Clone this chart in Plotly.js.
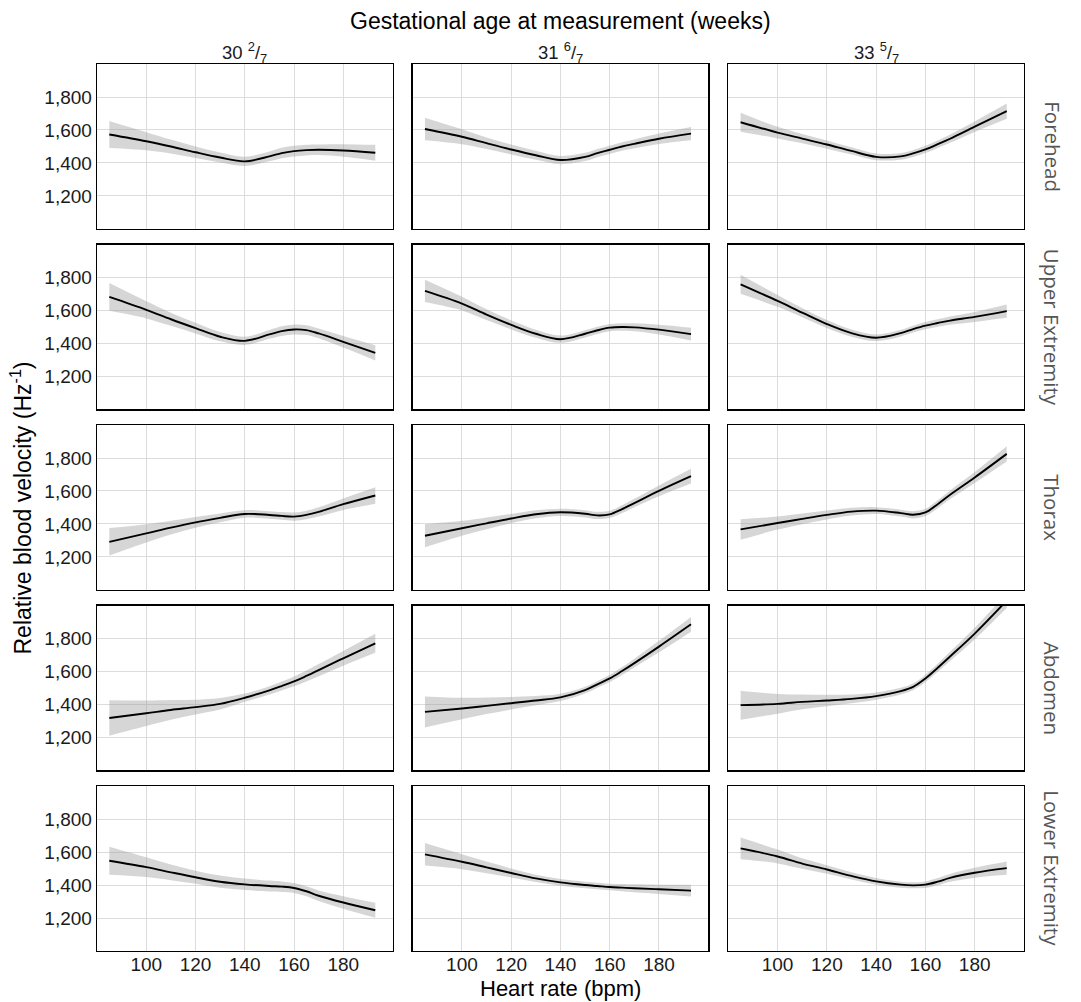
<!DOCTYPE html>
<html>
<head>
<meta charset="utf-8">
<script src="https://cdn.plot.ly/plotly-3.0.1.min.js"></script>
<style>
  html, body { margin: 0; padding: 0; background: #ffffff; }
  #chart { width: 1081px; height: 1002px; }
</style>
</head>
<body>
<div id="chart"></div>
<script>
// ---------------- DATA ----------------
const heartRate = [85, 100, 110, 120, 130, 140, 150, 155, 160, 165, 170, 180, 193];

const gestAges = ['30 <sup>2</sup>/<sub>7</sub>', '31 <sup>6</sup>/<sub>7</sub>', '33 <sup>5</sup>/<sub>7</sub>'];
const regions = ['Forehead', 'Upper Extremity', 'Thorax', 'Abdomen', 'Lower Extremity'];

const xTickVals = [100, 120, 140, 160, 180];
const xTickText = ['100', '120', '140', '160', '180'];
const yTickVals = [1200, 1400, 1600, 1800];
const yTickText = ['1,200', '1,400', '1,600', '1,800'];

// fitted relative blood velocity, one row per gestational age
const foreheadFit = [
  [1573, 1532, 1500, 1465, 1433, 1410, 1440, 1460, 1472, 1478, 1480, 1476, 1462],
  [1606, 1559, 1520, 1482, 1447, 1418, 1437, 1460, 1480, 1500, 1516, 1547, 1578],
  [1647, 1584, 1548, 1512, 1473, 1437, 1440, 1458, 1482, 1514, 1547, 1620, 1714]
];
const foreheadCI = [
  [82, 55, 42, 35, 30, 28, 30, 32, 32, 32, 32, 38, 48],
  [68, 45, 35, 30, 27, 25, 25, 25, 25, 26, 27, 32, 40],
  [58, 35, 28, 25, 22, 20, 20, 21, 22, 23, 25, 32, 46]
];
const upperFit = [
  [1682, 1604, 1547, 1493, 1441, 1416, 1455, 1475, 1485, 1481, 1461, 1410, 1343],
  [1719, 1642, 1575, 1513, 1459, 1426, 1459, 1480, 1496, 1500, 1498, 1484, 1457],
  [1759, 1658, 1587, 1518, 1463, 1435, 1463, 1487, 1508, 1524, 1539, 1561, 1596]
];
const upperCI = [
  [84, 52, 40, 32, 28, 25, 27, 29, 30, 30, 30, 35, 46],
  [68, 42, 33, 28, 24, 22, 22, 22, 22, 23, 24, 30, 39],
  [58, 36, 28, 24, 22, 20, 20, 21, 22, 23, 25, 30, 40]
];
const thoraxFit = [
  [1292, 1343, 1378, 1410, 1437, 1461, 1455, 1449, 1445, 1455, 1473, 1520, 1573],
  [1329, 1374, 1404, 1433, 1459, 1471, 1462, 1452, 1458, 1490, 1527, 1601, 1690],
  [1367, 1406, 1431, 1455, 1475, 1481, 1466, 1456, 1470, 1520, 1577, 1682, 1825]
];
const thoraxCI = [
  [83, 55, 42, 33, 27, 23, 23, 24, 25, 26, 28, 35, 50],
  [70, 45, 36, 28, 24, 22, 22, 22, 22, 24, 26, 33, 45],
  [62, 40, 32, 27, 23, 21, 21, 22, 22, 24, 26, 33, 46]
];
const abdomenFit = [
  [1318, 1347, 1367, 1384, 1404, 1441, 1486, 1512, 1540, 1573, 1608, 1680, 1771],
  [1355, 1376, 1392, 1408, 1424, 1443, 1487, 1522, 1558, 1603, 1651, 1751, 1886],
  [1396, 1404, 1416, 1424, 1434, 1451, 1481, 1507, 1558, 1623, 1691, 1830, 2030]
];
const abdomenCI = [
  [107, 77, 60, 45, 35, 25, 25, 27, 30, 33, 37, 45, 58],
  [94, 65, 50, 38, 28, 22, 20, 20, 22, 24, 27, 35, 45],
  [88, 60, 45, 35, 27, 22, 20, 20, 22, 25, 28, 35, 45]
];
const lowerFit = [
  [1547, 1508, 1477, 1447, 1420, 1404, 1394, 1390, 1382, 1362, 1335, 1294, 1247],
  [1586, 1541, 1507, 1473, 1440, 1416, 1400, 1394, 1388, 1384, 1380, 1374, 1366],
  [1622, 1573, 1530, 1494, 1455, 1422, 1402, 1398, 1402, 1420, 1443, 1474, 1502]
];
const lowerCI = [
  [85, 60, 48, 40, 37, 35, 33, 32, 30, 30, 32, 38, 46],
  [68, 45, 35, 27, 22, 20, 20, 20, 20, 22, 24, 28, 35],
  [66, 42, 32, 26, 22, 20, 18, 18, 20, 22, 24, 30, 40]
];

const fits = [foreheadFit, upperFit, thoraxFit, abdomenFit, lowerFit];
const cis = [foreheadCI, upperCI, thoraxCI, abdomenCI, lowerCI];

// ---------------- LAYOUT GEOMETRY ----------------
const colDomains = [[0, 0.3188], [0.3405, 0.6594], [0.681, 1]];
const rowH = 0.186;
const rowGap = (1 - 5 * rowH) / 4;
function rowDomain(r) {
  const top = 1 - r * (rowH + rowGap);
  return [Math.max(0, top - rowH), top];
}

const FONT = 'Liberation Sans, Arial, sans-serif';
const traces = [];
const layout = {
  width: 1081,
  height: 1002,
  margin: { l: 97, r: 57, t: 64, b: 51 },
  paper_bgcolor: '#ffffff',
  plot_bgcolor: '#ffffff',
  showlegend: false,
  font: { family: FONT, size: 19, color: '#1a1a1a' },
  annotations: []
};

for (let r = 0; r < 5; r++) {
  for (let c = 0; c < 3; c++) {
    const k = r * 3 + c + 1;
    const xa = k === 1 ? 'x' : 'x' + k;
    const ya = k === 1 ? 'y' : 'y' + k;
    const fit = fits[r][c];
    const ci = cis[r][c];
    const lo = fit.map((v, i) => v - ci[i]);
    const hi = fit.map((v, i) => v + ci[i]);
    traces.push({
      x: heartRate, y: lo, xaxis: xa, yaxis: ya, type: 'scatter', mode: 'lines',
      line: { width: 0, shape: 'spline', color: 'rgba(0,0,0,0)' }, hoverinfo: 'skip'
    });
    traces.push({
      x: heartRate, y: hi, xaxis: xa, yaxis: ya, type: 'scatter', mode: 'lines',
      fill: 'tonexty', fillcolor: 'rgba(153,153,153,0.4)',
      line: { width: 0, shape: 'spline', color: 'rgba(0,0,0,0)' }, hoverinfo: 'skip'
    });
    traces.push({
      x: heartRate, y: fit, xaxis: xa, yaxis: ya, type: 'scatter', mode: 'lines',
      line: { width: 1.9, shape: 'spline', color: '#000000' }
    });

    const xKey = k === 1 ? 'xaxis' : 'xaxis' + k;
    const yKey = k === 1 ? 'yaxis' : 'yaxis' + k;
    layout[xKey] = {
      domain: colDomains[c], anchor: ya, range: [80, 200],
      tickvals: xTickVals, ticktext: xTickText, showticklabels: r === 4,
      ticks: '', ticklabelstandoff: -4,
      showgrid: true, gridcolor: '#dcdcdc', gridwidth: 1, zeroline: false,
      showline: true, linecolor: '#000000', linewidth: 1.3, mirror: true,
      tickfont: { family: FONT, size: 19, color: '#1a1a1a' }, fixedrange: true
    };
    layout[yKey] = {
      domain: rowDomain(r), anchor: xa, range: [1000, 2000],
      tickvals: yTickVals, ticktext: yTickText, showticklabels: c === 0,
      ticks: '', showgrid: true, gridcolor: '#dcdcdc', gridwidth: 1, zeroline: false,
      showline: true, linecolor: '#000000', linewidth: 1.3, mirror: true,
      tickfont: { family: FONT, size: 19, color: '#1a1a1a' }, fixedrange: true
    };
  }
}

// column (gestational age) headers
gestAges.forEach((g, c) => {
  layout.annotations.push({
    text: g, xref: 'paper', yref: 'paper',
    x: (colDomains[c][0] + colDomains[c][1]) / 2, y: 1.0135,
    xanchor: 'center', yanchor: 'middle', showarrow: false,
    font: { family: FONT, size: 18.5, color: '#1a1a1a' }
  });
});
// row (region) strips on the right
regions.forEach((reg, r) => {
  const d = rowDomain(r);
  layout.annotations.push({
    text: reg, xref: 'paper', yref: 'paper',
    x: 1.0305, y: (d[0] + d[1]) / 2, textangle: 90,
    xanchor: 'center', yanchor: 'middle', showarrow: false,
    font: { family: 'Open Sans, sans-serif', size: 20.5, color: '#555555' }
  });
});
// top title
layout.annotations.push({
  text: 'Gestational age at measurement (weeks)', xref: 'paper', yref: 'paper',
  x: 0.5, y: 1.0485, xanchor: 'center', yanchor: 'middle', showarrow: false,
  font: { family: FONT, size: 23, color: '#000000' }
});
// x axis title
layout.annotations.push({
  text: 'Heart rate (bpm)', xref: 'paper', yref: 'paper',
  x: 0.5, y: -0.0425, xanchor: 'center', yanchor: 'middle', showarrow: false,
  font: { family: FONT, size: 22, color: '#000000' }
});
// y axis title
layout.annotations.push({
  text: 'Relative blood velocity (Hz<sup>-1</sup>)', xref: 'paper', yref: 'paper',
  x: -0.082, y: 0.5, textangle: -90, xanchor: 'center', yanchor: 'middle', showarrow: false,
  font: { family: FONT, size: 23, color: '#000000' }
});

Plotly.newPlot('chart', traces, layout, { displayModeBar: false, staticPlot: true });
</script>
</body>
</html>
